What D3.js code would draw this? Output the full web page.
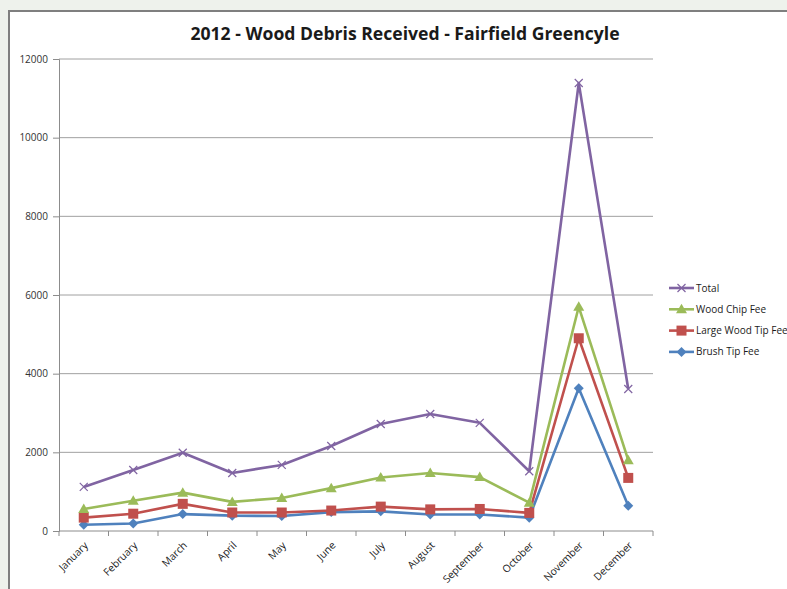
<!DOCTYPE html>
<html>
<head>
<meta charset="utf-8">
<script src="https://cdn.jsdelivr.net/npm/d3@7"></script>
<style>
  body { margin: 0; background: #eef2ec; }
  svg { display: block; font-family: "Open Sans", "Liberation Sans", sans-serif; }
</style>
</head>
<body>
<svg id="chart" width="787" height="589"></svg>
<script>
//chart data
var months = ["January", "February", "March", "April", "May", "June", "July",
	"August", "September", "October", "November", "December"];
var total = [1120, 1550, 1990, 1475, 1680, 2160, 2720, 2975, 2750, 1520, 11390, 3610];
var woodChip = [560, 770, 975, 740, 840, 1090, 1360, 1475, 1370, 720, 5700, 1800];
var largeWood = [340, 440, 690, 470, 470, 520, 620, 550, 560, 460, 4900, 1350];
var brushTip = [160, 190, 430, 390, 380, 480, 500, 420, 420, 340, 3630, 640];
var yTicks = [0, 2000, 4000, 6000, 8000, 10000, 12000];

var series = [
	{name: "Total", values: total, color: "#8064a2", marker: "x"},
	{name: "Wood Chip Fee", values: woodChip, color: "#9bbb59", marker: "triangle"},
	{name: "Large Wood Tip Fee", values: largeWood, color: "#c0504d", marker: "square"},
	{name: "Brush Tip Fee", values: brushTip, color: "#4f81bd", marker: "diamond"}
];

var svg = d3.select("#chart");

//white chart box with dark frame on left/top
svg.append("rect")
	.attr("x", 9).attr("y", 11)
	.attr("width", 800).attr("height", 600)
	.attr("fill", "white")
	.attr("stroke", "#7f7f7f")
	.attr("stroke-width", 2);

svg.append("text")
	.attr("x", 405).attr("y", 40)
	.attr("text-anchor", "middle")
	.attr("font-size", "17.6px")
	.attr("font-weight", "bold")
	.attr("fill", "#1a1a1a")
	.text("2012 - Wood Debris Received - Fairfield Greencyle");

var plotLeft = 59, plotRight = 653, plotTop = 59, plotBottom = 531;

var x = d3.scaleBand().domain(months).range([plotLeft, plotRight]);
var y = d3.scaleLinear().domain([0, 12000]).range([plotBottom, plotTop]);

//gridlines
svg.append("g")
	.selectAll("line")
	.data(yTicks.slice(1))
	.enter().append("line")
	.attr("x1", plotLeft).attr("x2", plotRight)
	.attr("y1", function(d) { return y(d); })
	.attr("y2", function(d) { return y(d); })
	.attr("stroke", "#a0a0a0")
	.attr("stroke-width", 1);

//y axis
var yAxis = svg.append("g")
	.attr("transform", "translate(" + plotLeft + ",0)")
	.call(d3.axisLeft(y).tickValues(yTicks).tickSize(6).tickPadding(5).tickFormat(d3.format("d")));
yAxis.select(".domain").attr("stroke", "#8c8c8c");
yAxis.selectAll(".tick line").attr("stroke", "#8c8c8c");
yAxis.selectAll("text").attr("font-size", "10px").attr("fill", "#333")
	.attr("font-family", "'Open Sans', sans-serif");

//x axis, ticks between categories
var xAxis = svg.append("g")
	.attr("transform", "translate(0," + plotBottom + ")");
xAxis.append("line")
	.attr("x1", plotLeft).attr("x2", plotRight)
	.attr("stroke", "#8c8c8c");
xAxis.selectAll(".xt")
	.data(months.concat(["end"]))
	.enter().append("line")
	.attr("class", "xt")
	.attr("x1", function(d, i) { return plotLeft + i * x.bandwidth(); })
	.attr("x2", function(d, i) { return plotLeft + i * x.bandwidth(); })
	.attr("y1", 0).attr("y2", 5)
	.attr("stroke", "#8c8c8c");
xAxis.selectAll(".xl")
	.data(months)
	.enter().append("text")
	.attr("class", "xl")
	.attr("transform", function(d) {
		return "translate(" + (x(d) + x.bandwidth() / 2 + 5) + ",15) rotate(-45)";
	})
	.attr("text-anchor", "end")
	.attr("font-size", "10.3px")
	.attr("fill", "#1a1a1a")
	.text(function(d) { return d; });

var line = d3.line()
	.x(function(d, i) { return x(months[i]) + x.bandwidth() / 2; })
	.y(function(d) { return y(d); });

function drawMarker(g, type, color) {
	if (type == "x") {
		g.append("path").attr("d", "M-4,-4L4,4M-4,4L4,-4")
			.attr("stroke", color).attr("stroke-width", 1.2).attr("fill", "none");
	} else if (type == "triangle") {
		g.append("path").attr("d", "M0,-5.5L5.5,4L-5.5,4Z").attr("fill", color);
	} else if (type == "square") {
		g.append("rect").attr("x", -5).attr("y", -5).attr("width", 10).attr("height", 10).attr("fill", color);
	} else {
		g.append("path").attr("d", "M0,-5L5,0L0,5L-5,0Z").attr("fill", color);
	}
}

//draw series back to front so total sits on top
series.slice().reverse().forEach(function(s) {
	var g = svg.append("g");
	g.append("path")
		.datum(s.values)
		.attr("d", line)
		.attr("fill", "none")
		.attr("stroke", s.color)
		.attr("stroke-width", 2.6)
		.attr("stroke-linejoin", "round");
	s.values.forEach(function(v, i) {
		var m = g.append("g")
			.attr("transform", "translate(" + (x(months[i]) + x.bandwidth() / 2) + "," + y(v) + ")");
		drawMarker(m, s.marker, s.color);
	});
});

//legend
var legend = svg.append("g");
series.forEach(function(s, i) {
	var ly = 288 + i * 21.3;
	var lg = legend.append("g");
	lg.append("line")
		.attr("x1", 669).attr("x2", 694)
		.attr("y1", ly).attr("y2", ly)
		.attr("stroke", s.color).attr("stroke-width", 2.6);
	var m = lg.append("g").attr("transform", "translate(681.5," + ly + ")");
	drawMarker(m, s.marker, s.color);
	lg.append("text")
		.attr("x", 696).attr("y", ly + 3.5)
		.attr("font-size", "10px")
		.attr("fill", "#1a1a1a")
		.text(s.name);
});
</script>
</body>
</html>
